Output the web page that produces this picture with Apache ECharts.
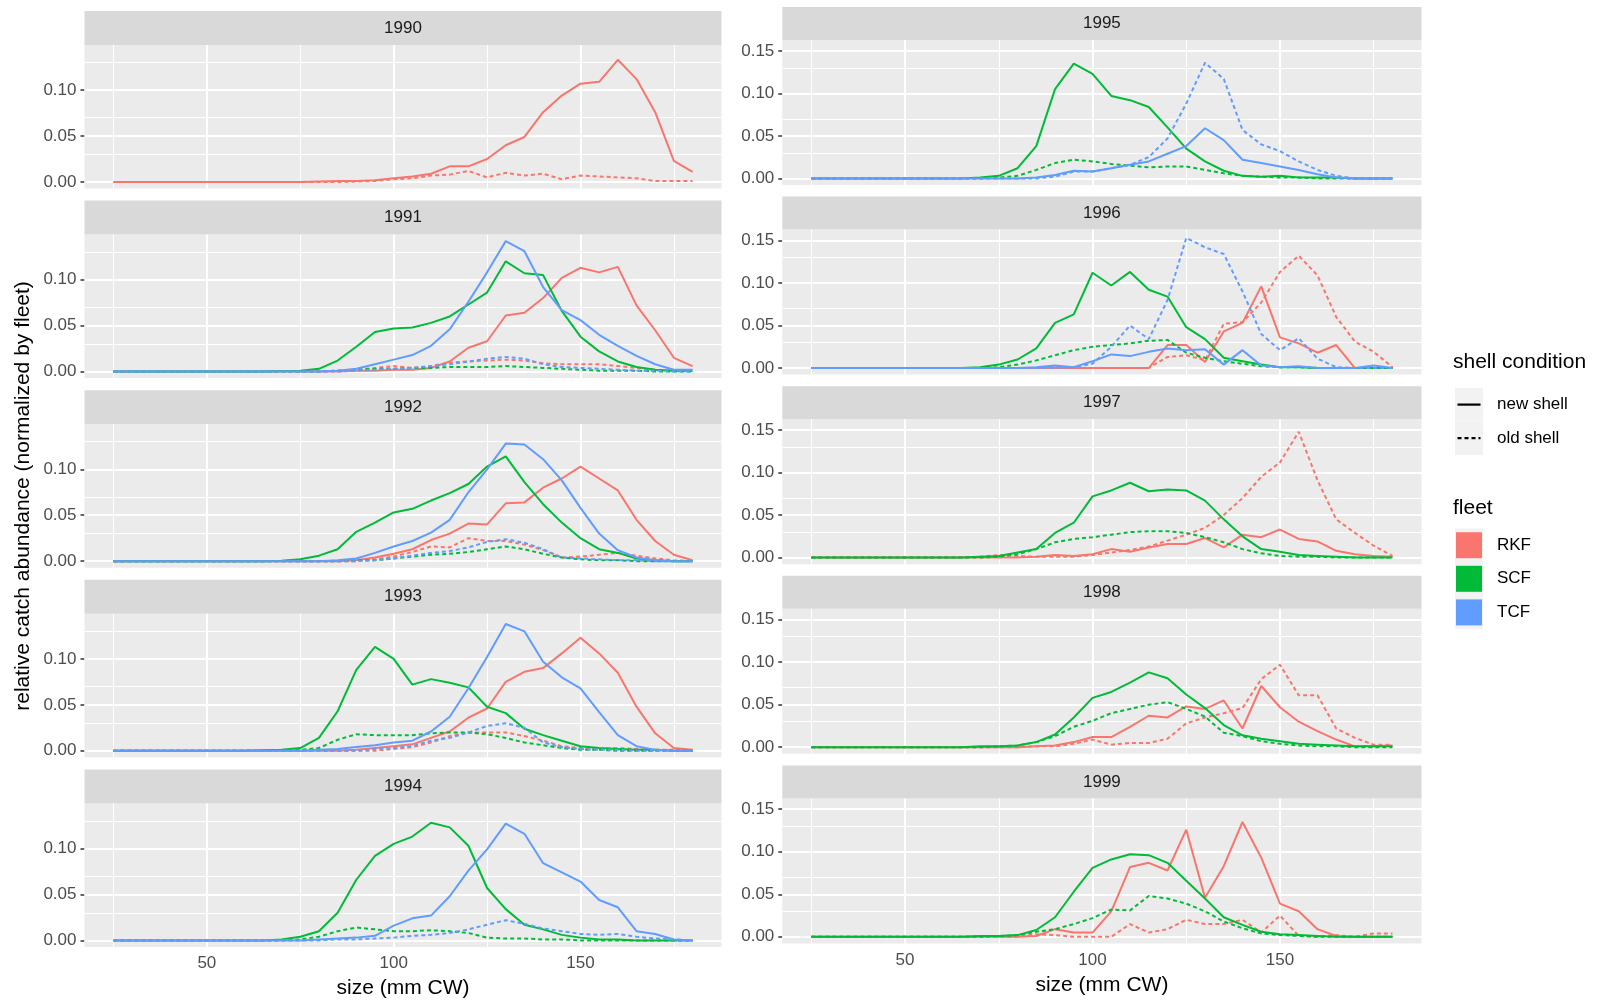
<!DOCTYPE html>
<html>
<head>
<meta charset="utf-8">
<script src="https://cdn.jsdelivr.net/npm/echarts@6/dist/echarts.min.js"></script>
<style>
  html, body { margin: 0; padding: 0; background: #ffffff; }
  #chart { width: 1598px; height: 1000px; }
</style>
</head>
<body>
<div id="chart"></div>
<script>
// Size classes (carapace width, mm)
const sizes = [25,30,35,40,45,50,55,60,65,70,75,80,85,90,95,100,105,110,115,120,125,130,135,140,145,150,155,160,165,170,175,180];

const FLEET_COLORS = { RKF: '#F8766D', SCF: '#00BA38', TCF: '#619CFF' };
const X_TICKS = [50, 100, 150];
const X_MINOR = [25, 75, 125, 175];
const Y_TICKS_LEFT = [0, 0.05, 0.1];
const Y_TICKS_RIGHT = [0, 0.05, 0.1, 0.15];
const Y_MINOR = [0.025, 0.075, 0.125];

// Relative catch abundance by size class, normalized by fleet
const RKF_1990_new = [0,0,0,0,0,0,0,0,0,0,0,0.0005,0.001,0.001,0.002,0.004,0.006,0.009,0.017,0.017,0.025,0.040,0.049,0.076,0.094,0.107,0.109,0.133,0.112,0.076,0.023,0.011];
const RKF_1990_old = [0,0,0,0,0,0,0,0,0,0,0,0,0,0.0005,0.001,0.003,0.004,0.007,0.008,0.012,0.005,0.010,0.007,0.009,0.003,0.007,0.006,0.005,0.004,0.001,0.001,0.001];

const RKF_1991_new = [0,0,0,0,0,0,0,0,0,0,0,0,0,0.001,0.001,0.002,0.002,0.004,0.011,0.026,0.033,0.061,0.064,0.080,0.102,0.113,0.108,0.114,0.072,0.045,0.015,0.006];
const RKF_1991_old = [0,0,0,0,0,0,0,0,0,0,0,0,0.001,0.002,0.004,0.006,0.004,0.006,0.010,0.011,0.012,0.013,0.012,0.009,0.008,0.008,0.008,0.006,0.004,0.002,0.001,0.001];
const SCF_1991_new = [0,0,0,0,0,0,0,0,0,0.0005,0.001,0.003,0.012,0.027,0.043,0.047,0.048,0.053,0.060,0.073,0.086,0.120,0.107,0.105,0.066,0.038,0.022,0.011,0.005,0.002,0.001,0.001];
const SCF_1991_old = [0,0,0,0,0,0,0,0,0,0,0,0,0.001,0.002,0.003,0.003,0.004,0.004,0.005,0.005,0.005,0.006,0.005,0.004,0.003,0.002,0.001,0.001,0.001,0,0,0];
const TCF_1991_new = [0,0,0,0,0,0,0,0,0,0,0,0,0.001,0.003,0.008,0.013,0.018,0.028,0.046,0.076,0.108,0.142,0.131,0.092,0.067,0.056,0.040,0.028,0.017,0.008,0.002,0.002];
const TCF_1991_old = [0,0,0,0,0,0,0,0,0,0,0,0,0,0.001,0.002,0.003,0.004,0.006,0.008,0.011,0.014,0.016,0.014,0.008,0.005,0.004,0.003,0.002,0.001,0.001,0,0];

const RKF_1992_new = [0,0,0,0,0,0,0,0,0,0,0,0,0,0.001,0.004,0.008,0.013,0.023,0.030,0.041,0.040,0.063,0.064,0.080,0.090,0.103,0.090,0.077,0.045,0.022,0.007,0.001];
const RKF_1992_old = [0,0,0,0,0,0,0,0,0,0,0,0,0,0,0.002,0.005,0.010,0.016,0.015,0.025,0.022,0.022,0.018,0.012,0.004,0.005,0.007,0.009,0.006,0.003,0.001,0];
const SCF_1992_new = [0,0,0,0,0,0,0,0,0,0.0005,0.002,0.006,0.013,0.032,0.042,0.053,0.057,0.066,0.074,0.084,0.103,0.114,0.086,0.062,0.042,0.025,0.013,0.009,0.003,0.001,0,0];
const SCF_1992_old = [0,0,0,0,0,0,0,0,0,0,0,0,0,0.001,0.001,0.003,0.005,0.007,0.008,0.010,0.013,0.016,0.013,0.008,0.004,0.002,0.001,0.001,0,0,0,0];
const TCF_1992_new = [0,0,0,0,0,0,0,0,0,0,0,0,0.001,0.003,0.009,0.016,0.022,0.031,0.045,0.075,0.100,0.128,0.127,0.111,0.088,0.058,0.030,0.012,0.004,0.001,0,0];
const TCF_1992_old = [0,0,0,0,0,0,0,0,0,0,0,0,0,0,0.001,0.003,0.006,0.009,0.011,0.015,0.021,0.024,0.020,0.013,0.004,0.003,0.002,0.001,0.001,0,0,0];

const RKF_1993_new = [0,0,0,0,0,0,0,0,0,0,0,0,0,0.001,0.003,0.005,0.007,0.014,0.021,0.036,0.046,0.075,0.086,0.090,0.106,0.123,0.106,0.085,0.048,0.019,0.003,0.001];
const RKF_1993_old = [0,0,0,0,0,0,0,0,0,0,0,0,0,0,0,0.002,0.004,0.009,0.016,0.020,0.020,0.020,0.016,0.011,0.005,0.003,0.002,0.003,0.002,0.001,0.001,0];
const SCF_1993_new = [0,0,0,0,0,0,0,0,0.0005,0.001,0.003,0.014,0.043,0.088,0.113,0.100,0.072,0.078,0.074,0.069,0.048,0.041,0.024,0.017,0.011,0.005,0.003,0.002,0.001,0.001,0,0];
const SCF_1993_old = [0,0,0,0,0,0,0,0,0,0,0.001,0.003,0.012,0.018,0.017,0.017,0.017,0.019,0.020,0.020,0.018,0.014,0.009,0.006,0.003,0.001,0.001,0,0,0,0,0];
const TCF_1993_new = [0,0,0,0,0,0,0,0,0,0,0,0.001,0.002,0.004,0.006,0.009,0.011,0.021,0.037,0.068,0.102,0.138,0.130,0.097,0.080,0.068,0.042,0.017,0.005,0.001,0,0];
const TCF_1993_old = [0,0,0,0,0,0,0,0,0,0,0,0,0,0,0.002,0.003,0.005,0.011,0.014,0.020,0.027,0.030,0.025,0.009,0.004,0.002,0.001,0.001,0,0,0,0];

const SCF_1994_new = [0,0,0,0,0,0,0,0,0,0.001,0.004,0.010,0.030,0.066,0.092,0.105,0.113,0.128,0.123,0.103,0.057,0.034,0.017,0.012,0.006,0.003,0.001,0.001,0,0,0,0];
const SCF_1994_old = [0,0,0,0,0,0,0,0,0,0,0.001,0.004,0.010,0.014,0.012,0.010,0.010,0.011,0.010,0.008,0.003,0.002,0.002,0.001,0.001,0,0,0,0,0,0,0];
const TCF_1994_new = [0,0,0,0,0,0,0,0,0,0,0,0.001,0.002,0.003,0.005,0.016,0.024,0.027,0.048,0.076,0.099,0.127,0.116,0.084,0.074,0.064,0.044,0.036,0.010,0.007,0.001,0];
const TCF_1994_old = [0,0,0,0,0,0,0,0,0,0,0,0,0.001,0.001,0.002,0.003,0.005,0.006,0.008,0.012,0.017,0.022,0.018,0.013,0.010,0.007,0.006,0.007,0.004,0.002,0.001,0];

const SCF_1995_new = [0,0,0,0,0,0,0,0,0,0.001,0.003,0.012,0.038,0.105,0.135,0.123,0.097,0.092,0.084,0.060,0.035,0.020,0.009,0.003,0.002,0.003,0.001,0.001,0.001,0,0,0];
const SCF_1995_old = [0,0,0,0,0,0,0,0,0,0,0.001,0.003,0.010,0.018,0.022,0.020,0.017,0.015,0.013,0.014,0.014,0.010,0.006,0.003,0.002,0.001,0.001,0,0,0,0,0];
const TCF_1995_new = [0,0,0,0,0,0,0,0,0,0,0,0,0.001,0.004,0.009,0.008,0.012,0.016,0.020,0.029,0.038,0.059,0.045,0.022,0.018,0.014,0.010,0.005,0.001,0,0,0];
const TCF_1995_old = [0,0,0,0,0,0,0,0,0,0,0,0,0,0.002,0.008,0.008,0.012,0.016,0.025,0.047,0.088,0.136,0.117,0.057,0.040,0.032,0.020,0.010,0.003,0,0,0];

const RKF_1996_new = [0,0,0,0,0,0,0,0,0,0,0,0,0,0,0,0,0,0,0,0.027,0.027,0.007,0.043,0.053,0.096,0.036,0.029,0.018,0.027,0,0,0];
const RKF_1996_old = [0,0,0,0,0,0,0,0,0,0,0,0,0,0.002,0,0,0,0,0,0.013,0.015,0.009,0.052,0.054,0.077,0.113,0.132,0.109,0.060,0.031,0.019,0.001];
const SCF_1996_new = [0,0,0,0,0,0,0,0,0,0.001,0.004,0.010,0.023,0.053,0.063,0.112,0.097,0.113,0.092,0.084,0.048,0.034,0.012,0.008,0.004,0.001,0.001,0,0,0,0,0];
const SCF_1996_old = [0,0,0,0,0,0,0,0,0,0,0.001,0.004,0.009,0.015,0.021,0.025,0.027,0.029,0.032,0.033,0.018,0.012,0.008,0.005,0.002,0.001,0.001,0,0,0,0,0];
const TCF_1996_new = [0,0,0,0,0,0,0,0,0,0,0,0,0.001,0.003,0.001,0.008,0.016,0.014,0.019,0.023,0.021,0.022,0.004,0.021,0.003,0.001,0.002,0,0,0,0.003,0];
const TCF_1996_old = [0,0,0,0,0,0,0,0,0,0,0,0,0,0,0.001,0.005,0.025,0.050,0.034,0.080,0.153,0.142,0.134,0.090,0.040,0.021,0.035,0.011,0.001,0,0,0];

const RKF_1997_new = [0,0,0,0,0,0,0,0,0,0,0,0,0.001,0.003,0.002,0.004,0.010,0.007,0.012,0.016,0.016,0.023,0.012,0.027,0.024,0.033,0.022,0.019,0.008,0.004,0.002,0.001];
const RKF_1997_old = [0,0,0,0,0,0,0,0,0,0.001,0.003,0.002,0.001,0.001,0.001,0.003,0.006,0.009,0.013,0.020,0.027,0.035,0.050,0.070,0.095,0.112,0.148,0.091,0.045,0.029,0.014,0.002];
const SCF_1997_new = [0,0,0,0,0,0,0,0,0,0.001,0.002,0.006,0.010,0.029,0.041,0.072,0.079,0.088,0.078,0.080,0.079,0.067,0.045,0.025,0.010,0.007,0.003,0.002,0.001,0,0,0];
const SCF_1997_old = [0,0,0,0,0,0,0,0,0,0,0.001,0.004,0.010,0.018,0.022,0.024,0.027,0.030,0.031,0.031,0.029,0.024,0.018,0.010,0.005,0.002,0.001,0.001,0,0,0,0];

const RKF_1998_new = [0,0,0,0,0,0,0,0,0,0,0,0,0.001,0.002,0.006,0.012,0.012,0.024,0.037,0.035,0.048,0.045,0.055,0.022,0.072,0.047,0.030,0.019,0.009,0.001,0.001,0.002];
const RKF_1998_old = [0,0,0,0,0,0,0,0,0,0,0,0,0.001,0.001,0.004,0.009,0.003,0.005,0.005,0.010,0.028,0.035,0.040,0.046,0.080,0.097,0.061,0.061,0.022,0.011,0.003,0.003];
const SCF_1998_new = [0,0,0,0,0,0,0,0,0,0.001,0.001,0.002,0.006,0.015,0.035,0.058,0.065,0.076,0.088,0.081,0.062,0.046,0.026,0.014,0.010,0.007,0.004,0.003,0.002,0.001,0.001,0.001];
const SCF_1998_old = [0,0,0,0,0,0,0,0,0,0,0.001,0.002,0.006,0.013,0.024,0.031,0.040,0.045,0.050,0.053,0.045,0.036,0.017,0.013,0.007,0.004,0.002,0.001,0.001,0,0,0];

const RKF_1999_new = [0,0,0,0,0,0,0,0,0,0,0,0,0.001,0.009,0.005,0.005,0.030,0.082,0.087,0.078,0.126,0.046,0.083,0.135,0.093,0.039,0.030,0.009,0.001,0,0,0];
const RKF_1999_old = [0,0,0,0,0,0,0,0,0,0,0,0,0.003,0.002,0,0,0,0.015,0.005,0.009,0.020,0.015,0.015,0.020,0.005,0.025,0.001,0,0.002,0,0.004,0.004];
const SCF_1999_new = [0,0,0,0,0,0,0,0,0,0.001,0.001,0.002,0.008,0.023,0.053,0.081,0.091,0.097,0.096,0.087,0.066,0.045,0.023,0.014,0.006,0.003,0.002,0.001,0,0,0,0];
const SCF_1999_old = [0,0,0,0,0,0,0,0,0,0,0.001,0.002,0.006,0.009,0.015,0.022,0.032,0.031,0.048,0.045,0.039,0.030,0.018,0.010,0.004,0.002,0.001,0,0,0,0,0];

// Facet table: one panel per year, two columns of five
const panels = [
  { year: 1990, col: 0, row: 0, lines: [['RKF', 'new', RKF_1990_new], ['RKF', 'old', RKF_1990_old]] },
  { year: 1991, col: 0, row: 1, lines: [['RKF', 'new', RKF_1991_new], ['RKF', 'old', RKF_1991_old], ['SCF', 'new', SCF_1991_new], ['SCF', 'old', SCF_1991_old], ['TCF', 'new', TCF_1991_new], ['TCF', 'old', TCF_1991_old]] },
  { year: 1992, col: 0, row: 2, lines: [['RKF', 'new', RKF_1992_new], ['RKF', 'old', RKF_1992_old], ['SCF', 'new', SCF_1992_new], ['SCF', 'old', SCF_1992_old], ['TCF', 'new', TCF_1992_new], ['TCF', 'old', TCF_1992_old]] },
  { year: 1993, col: 0, row: 3, lines: [['RKF', 'new', RKF_1993_new], ['RKF', 'old', RKF_1993_old], ['SCF', 'new', SCF_1993_new], ['SCF', 'old', SCF_1993_old], ['TCF', 'new', TCF_1993_new], ['TCF', 'old', TCF_1993_old]] },
  { year: 1994, col: 0, row: 4, lines: [['SCF', 'new', SCF_1994_new], ['SCF', 'old', SCF_1994_old], ['TCF', 'new', TCF_1994_new], ['TCF', 'old', TCF_1994_old]] },
  { year: 1995, col: 1, row: 0, lines: [['SCF', 'new', SCF_1995_new], ['SCF', 'old', SCF_1995_old], ['TCF', 'new', TCF_1995_new], ['TCF', 'old', TCF_1995_old]] },
  { year: 1996, col: 1, row: 1, lines: [['RKF', 'new', RKF_1996_new], ['RKF', 'old', RKF_1996_old], ['SCF', 'new', SCF_1996_new], ['SCF', 'old', SCF_1996_old], ['TCF', 'new', TCF_1996_new], ['TCF', 'old', TCF_1996_old]] },
  { year: 1997, col: 1, row: 2, lines: [['RKF', 'new', RKF_1997_new], ['RKF', 'old', RKF_1997_old], ['SCF', 'new', SCF_1997_new], ['SCF', 'old', SCF_1997_old]] },
  { year: 1998, col: 1, row: 3, lines: [['RKF', 'new', RKF_1998_new], ['RKF', 'old', RKF_1998_old], ['SCF', 'new', SCF_1998_new], ['SCF', 'old', SCF_1998_old]] },
  { year: 1999, col: 1, row: 4, lines: [['RKF', 'new', RKF_1999_new], ['RKF', 'old', RKF_1999_old], ['SCF', 'new', SCF_1999_new], ['SCF', 'old', SCF_1999_old]] }
];

// Page layout (pixels)
const FONT = '"Liberation Sans", Arial, Helvetica, sans-serif';
const ROW_PITCH = 189.6;
const columns = [
  { left: 84.5, width: 637, stripTop: 11, plotTop: 45, plotHeight: 143.5, yMin: -0.0071, yMax: 0.1491, yTicks: Y_TICKS_LEFT },
  { left: 782.3, width: 639.2, stripTop: 7, plotTop: 40, plotHeight: 145, yMin: -0.00775, yMax: 0.16275, yTicks: Y_TICKS_RIGHT }
];
const DASH = [4, 3];

const grids = [], xAxes = [], yAxes = [], series = [], graphics = [];
const tickLine = { color: '#333333', width: 1.5 };

panels.forEach((p, i) => {
  const c = columns[p.col];
  const top = c.plotTop + p.row * ROW_PITCH;
  const isBottom = p.row === 4;

  grids.push({
    left: c.left, top: top, width: c.width, height: c.plotHeight,
    show: true, backgroundColor: '#EBEBEB', borderWidth: 0,
    containLabel: false, outerBoundsMode: 'none'
  });

  xAxes.push({
    gridIndex: i, type: 'value', min: 17.25, max: 187.75,
    splitLine: { show: false }, axisLine: { show: false },
    axisTick: { show: isBottom, customValues: X_TICKS, length: 4, lineStyle: tickLine },
    axisLabel: { show: isBottom, customValues: X_TICKS, margin: 8, fontSize: 17, color: '#4D4D4D', fontFamily: FONT },
    name: isBottom ? 'size (mm CW)' : '', nameLocation: 'middle', nameGap: 31, nameMoveOverlap: false,
    nameTextStyle: { fontSize: 21, color: '#000000', fontFamily: FONT }
  });

  yAxes.push({
    gridIndex: i, type: 'value', min: c.yMin, max: c.yMax,
    splitLine: { show: false }, axisLine: { show: false },
    axisTick: { show: true, customValues: c.yTicks, length: 4, lineStyle: tickLine },
    axisLabel: { customValues: c.yTicks, margin: 8, fontSize: 17, color: '#4D4D4D', fontFamily: FONT,
      formatter: v => v.toFixed(2) },
    name: (p.col === 0 && p.row === 2) ? 'relative catch abundance (normalized by fleet)' : '',
    nameLocation: 'middle', nameGap: 51, nameMoveOverlap: false,
    nameTextStyle: { fontSize: 21, color: '#000000', fontFamily: FONT }
  });

  // white panel grid: major and minor lines
  const major = { color: '#FFFFFF', width: 2, type: 'solid' };
  const minor = { color: '#FFFFFF', width: 1, type: 'solid' };
  series.push({
    type: 'line', xAxisIndex: i, yAxisIndex: i, data: [], silent: true, z: 1,
    markLine: {
      silent: true, z: 1, symbol: ['none', 'none'], label: { show: false },
      emphasis: { disabled: true }, lineStyle: major,
      data: [
        ...X_MINOR.map(v => ({ xAxis: v, lineStyle: minor })),
        ...Y_MINOR.map(v => ({ yAxis: v, lineStyle: minor })),
        ...X_TICKS.map(v => ({ xAxis: v, lineStyle: major })),
        ...c.yTicks.map(v => ({ yAxis: v, lineStyle: major }))
      ]
    }
  });

  p.lines.forEach(([fleet, shell, values]) => {
    series.push({
      type: 'line', name: fleet + ' ' + shell + ' shell',
      xAxisIndex: i, yAxisIndex: i, z: 3, silent: true,
      symbol: 'none', showSymbol: false,
      data: sizes.map((s, k) => [s, values[k]]),
      lineStyle: { color: FLEET_COLORS[fleet], width: 2, type: shell === 'old' ? DASH : 'solid' },
      itemStyle: { color: FLEET_COLORS[fleet] },
      emphasis: { disabled: true }
    });
  });

  // facet strip
  const stripY = c.stripTop + p.row * ROW_PITCH;
  const stripH = c.plotTop - c.stripTop;
  graphics.push({
    type: 'rect', silent: true,
    shape: { x: c.left, y: stripY, width: c.width, height: stripH },
    style: { fill: '#D9D9D9' }
  });
  graphics.push({
    type: 'text', silent: true, x: c.left + c.width / 2, y: stripY + stripH / 2,
    style: { text: String(p.year), fill: '#1A1A1A', font: '17px ' + FONT,
      textAlign: 'center', textVerticalAlign: 'middle', align: 'center', verticalAlign: 'middle' }
  });
});

// Legends: shell condition (line type) and fleet (colour)
const LEG_X = 1453, KEY_X = 1455, KEY_W = 28, KEY_H = 33.6, LABEL_X = 1497;
function legendText(text, x, y, size) {
  return { type: 'text', silent: true, x: x, y: y,
    style: { text: text, fill: '#000000', font: size + 'px ' + FONT,
      textAlign: 'left', textVerticalAlign: 'middle', align: 'left', verticalAlign: 'middle' } };
}
const shellKeys = [['new shell', 'solid', 404.6], ['old shell', 'dashed', 438.2]];
const fleetKeys = [['RKF', 545.2], ['SCF', 578.8], ['TCF', 612.4]];

graphics.push(legendText('shell condition', LEG_X, 362, 21));
shellKeys.forEach(([label, kind, cy]) => {
  graphics.push({ type: 'rect', silent: true, shape: { x: KEY_X, y: cy - KEY_H / 2, width: KEY_W, height: KEY_H }, style: { fill: '#F2F2F2' } });
  graphics.push({ type: 'line', silent: true, shape: { x1: KEY_X + 2.5, y1: cy, x2: KEY_X + KEY_W - 2.5, y2: cy },
    style: { stroke: '#000000', lineWidth: 2.2, lineDash: kind === 'dashed' ? DASH : null } });
  graphics.push(legendText(label, LABEL_X, cy, 17));
});
graphics.push(legendText('fleet', LEG_X, 508, 21));
fleetKeys.forEach(([fleet, cy]) => {
  graphics.push({ type: 'rect', silent: true, shape: { x: KEY_X, y: cy - KEY_H / 2, width: KEY_W, height: KEY_H }, style: { fill: '#F2F2F2' } });
  graphics.push({ type: 'rect', silent: true, shape: { x: KEY_X + 1, y: cy - 13, width: KEY_W - 2, height: 26 }, style: { fill: FLEET_COLORS[fleet] } });
  graphics.push(legendText(fleet, LABEL_X, cy, 17));
});

const chart = echarts.init(document.getElementById('chart'), null, { renderer: 'canvas', width: 1598, height: 1000 });
chart.setOption({
  backgroundColor: '#FFFFFF',
  animation: false,
  textStyle: { fontFamily: FONT },
  grid: grids,
  xAxis: xAxes,
  yAxis: yAxes,
  series: series,
  graphic: { elements: graphics }
});
</script>
</body>
</html>
